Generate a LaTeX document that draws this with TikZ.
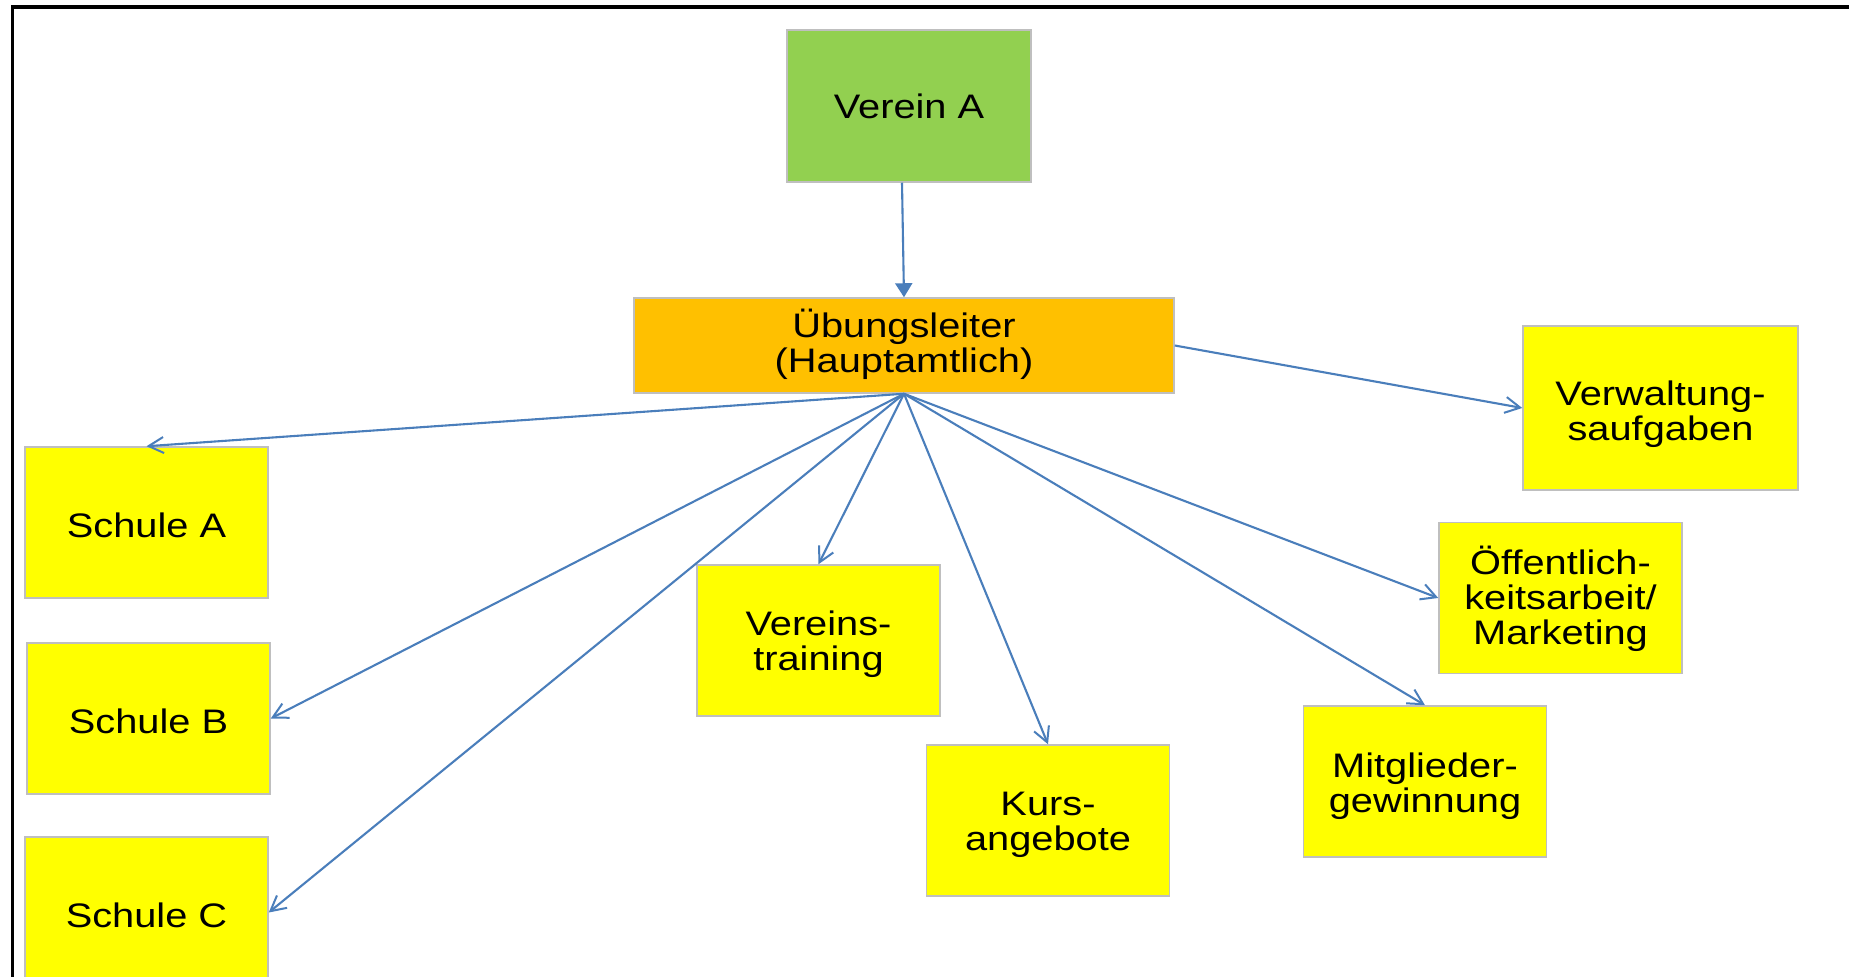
\documentclass[tikz,border=0pt]{standalone}
\usepackage{fontspec}
\setmainfont{Liberation Sans}[FakeStretch=1.17]
\usetikzlibrary{arrows.meta}
\definecolor{boxyellow}{HTML}{FFFF00}
\definecolor{boxgreen}{HTML}{92D050}
\definecolor{boxorange}{HTML}{FFC000}
\definecolor{boxedge}{HTML}{BFBFBF}
\definecolor{linkblue}{HTML}{4A7EBB}
\begin{document}
\begin{tikzpicture}[x=0.5pt,y=-0.5pt,
  every node/.style={font=\fontsize{17}{17.5}\selectfont},
  card/.style={draw=boxedge, line width=0.75pt, fill=boxyellow, inner sep=0pt,
    minimum width=121.5pt, minimum height=75.5pt},
  tx/.style={align=center, inner sep=0pt},
  conn/.style={draw=linkblue, line width=1.05pt,
    -{Straight Barb[length=7.5pt,width=8pt,line width=1pt]}},
  feed/.style={draw=linkblue, line width=1.05pt,
    -{Triangle[length=7pt,width=8.5pt]}}]
  \clip (0,0) rectangle (1849,977);
  \useasboundingbox (0,0) rectangle (1849,977);
  \fill[white] (0,0) rectangle (1849,977);
  % outer frame (only top and left edges lie on the page)
  \draw[line width=1.8pt, black] (12.5,1000) -- (12.5,7) -- (1900,7);

  % club and coach
  \node[card, fill=boxgreen, minimum width=122pt, minimum height=76pt,
    label={[tx]center:Verein A}] (verein) at (909,106) {};
  \node[card, fill=boxorange, minimum width=270pt, minimum height=47.5pt,
    label={[tx, yshift=0.6pt]center:{Übungsleiter\\(Hauptamtlich)}}] (ueb) at (904,345.5) {};

  % tasks
  \node[card, minimum width=137.5pt, minimum height=82pt,
    label={[tx, yshift=-2.9pt]center:{Verwaltung-\\saufgaben}}] (verw) at (1660.5,408) {};
  \node[card, label={[tx, yshift=-0.6pt]center:{Öffentlich-\\keitsarbeit/\\Marketing}}] (oeff) at (1560.5,598) {};
  \node[card, label={[tx, yshift=-2.3pt]center:{Mitglieder-\\gewinnung}}] (mitg) at (1425,781.5) {};
  \node[card, label={[tx, yshift=-2.3pt]center:{Kurs-\\angebote}}] (kurs) at (1048,820.5) {};
  \node[card, label={[tx, yshift=-1.8pt]center:{Vereins-\\training}}] (vtr) at (818.5,640.5) {};
  \node[card, label={[tx, yshift=-1.2pt]center:Schule A}] (schA) at (146.5,522.5) {};
  \node[card, label={[tx, yshift=-1.2pt]center:Schule B}] (schB) at (148.5,718.5) {};
  \node[card, label={[tx, yshift=-1.2pt]center:Schule C}] (schC) at (146.5,912.5) {};

  % connectors
  \draw[feed] ([xshift=-3.5pt]verein.south) -- (ueb.north);
  \draw[conn] (ueb.east) -- (verw.west);
  \draw[conn] (ueb.south) -- (schA.north);
  \draw[conn] (ueb.south) -- (schB.east);
  \draw[conn] (ueb.south) -- (schC.east);
  \draw[conn] (ueb.south) -- (vtr.north);
  \draw[conn] (ueb.south) -- (kurs.north);
  \draw[conn] (ueb.south) -- (mitg.north);
  \draw[conn] (ueb.south) -- (oeff.west);
\end{tikzpicture}
\end{document}
